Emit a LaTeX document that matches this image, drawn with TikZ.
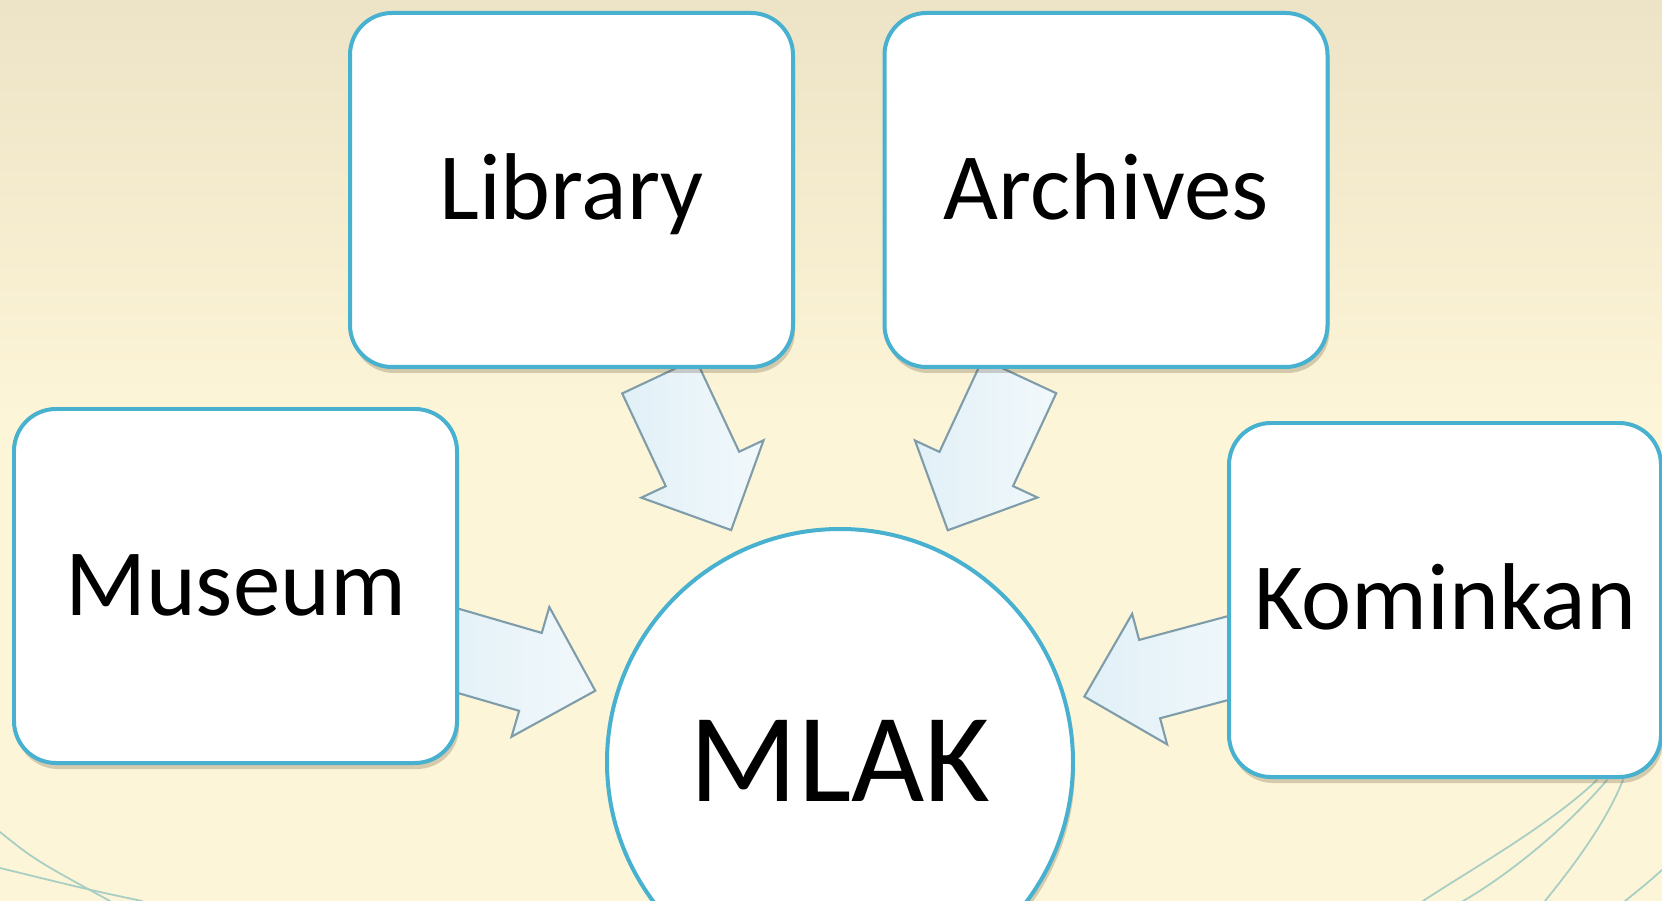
\documentclass[tikz,border=0pt]{standalone}
\usepackage{fontspec}
\setmainfont{Carlito}
\usetikzlibrary{shapes.arrows,shadows,backgrounds}
\definecolor{paper}{HTML}{FDF5D7}
\definecolor{paperdark}{HTML}{EDE3C6}
\definecolor{rim}{HTML}{47B1CF}
\definecolor{flowfill}{HTML}{E1F0F7}
\definecolor{flowedge}{HTML}{7F9CAB}
\definecolor{vein}{HTML}{A9CFC5}
\tikzset{
  unit/.style={draw=rim, line width=0.04cm, fill=white, rounded corners=0.42cm,
    minimum width=4.43cm, minimum height=3.54cm, inner sep=0pt,
    text height=17pt, text depth=0pt, font=\fontsize{27}{32}\selectfont,
    drop shadow={shadow xshift=0.02cm, shadow yshift=-0.06cm, opacity=0.22, fill=black!60!brown}},
  hub/.style={unit, circle, rounded corners=0pt, minimum size=4.66cm,
    text height=22.7pt, font=\fontsize{36}{43}\selectfont},
  flow/.style={single arrow, draw=flowedge, line width=0.6pt,
    left color=flowfill, right color=white!55!flowfill,
    minimum height=1.70cm, inner xsep=0pt, inner ysep=0.395cm,
    single arrow head extend=0.27cm, sloped, allow upside down, pos=0.428},
  vein/.style={draw=vein, line width=0.018cm, line cap=round}
}
\begin{document}
\begin{tikzpicture}
\useasboundingbox (0,0) rectangle (16.62,-9.01);

\node[unit] (lib) at (5.715,-1.90) {Library};
\node[unit] (arc) at (11.06,-1.90) {Archives};
\node[unit] (mus) at (2.355,-5.86) {Museum};
\node[unit, minimum width=4.32cm] (kom) at (14.45,-6.00) {Kominkan};
\node[hub] (mlak) at (8.40,-7.62) {MLAK};

\begin{pgfonlayer}{background}
\fill[paper] (0,0) rectangle (16.62,-9.01);
\shade[top color=paperdark, bottom color=paper] (0,0) rectangle (16.62,-4.2);

\draw[vein] (0,-8.32) .. controls (0.35,-8.60) .. (1.10,-9.01);
\draw[vein] (0,-8.68) .. controls (0.90,-8.90) .. (1.42,-9.01);
\draw[vein] (15.97,-7.80) .. controls (15.50,-8.25) and (14.70,-8.70) .. (14.23,-9.01);
\draw[vein] (16.07,-7.80) .. controls (15.60,-8.35) and (15.00,-8.80) .. (14.63,-9.01);
\draw[vein] (16.23,-7.80) .. controls (16.05,-8.25) and (15.70,-8.70) .. (15.45,-9.01);
\draw[vein] (16.62,-8.70) .. controls (16.45,-8.85) .. (16.25,-9.01);

\path (lib.center) -- node[flow] {} (mlak.center);
\path (arc.center) -- node[flow] {} (mlak.center);
\path (mus.center) -- node[flow] {} (mlak.center);
\path (kom.center) -- node[flow] {} (mlak.center);
\end{pgfonlayer}
\end{tikzpicture}
\end{document}
